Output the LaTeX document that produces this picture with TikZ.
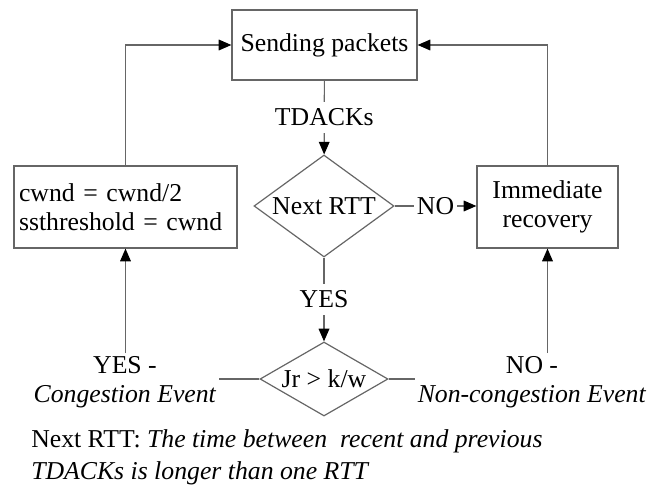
\documentclass[tikz,border=0pt]{standalone}
\usepackage{fontspec}
\setmainfont{Liberation Serif}
\usetikzlibrary{shapes.geometric,arrows.meta}
\tikzset{
  box/.style={draw=black!60, line width=0.9pt, rectangle, inner sep=0pt, align=center},
  dia/.style={draw=black!60, line width=0.9pt, diamond, inner sep=0pt},
  link/.style={draw=black!60, line width=0.9pt},
  arr/.style={link, -{Triangle[length=9.5pt,width=8pt,color=black]}},
  lbl/.style={fill=white, inner xsep=3pt, inner ysep=5pt},
}
\begin{document}
\begin{tikzpicture}[x=0.75pt,y=-0.75pt, font=\fontsize{19.3}{22}\selectfont]
\useasboundingbox (0,0) rectangle (649,488);

% process boxes
\node[box, minimum width=138.75pt, minimum height=52.5pt] (send) at (324.5,45) {Sending packets};
\node[box, minimum width=105.75pt, minimum height=61.5pt] (recov) at (547.5,207) {Immediate\\recovery};
\node[box, minimum width=167.25pt, minimum height=61.5pt, text width=159.75pt,
      inner xsep=3.75pt, align=left] (cwnd) at (125.5,207) {cwnd = cwnd/2\\ssthreshold = cwnd};

% decisions
\node[dia, minimum width=105pt, minimum height=76.5pt, label=center:{Next RTT}] (rtt) at (324,206) {};
\node[dia, minimum width=96pt, minimum height=55.5pt, label=center:{Jr > k/w}] (jr) at (324,379) {};

% outcomes of the second test
\node[align=center, inner sep=2pt] (yes) at (125,382) {YES -\\\textit{Congestion Event}};
\node[align=center, inner sep=2pt] (no) at (532,382) {NO -\\\textit{Non-congestion Event}};

% footnote
\node[anchor=base west, inner sep=0pt] (foot1) at (31,447) {Next RTT: \textit{The time between\ \ recent and previous}};
\node[anchor=base west, inner sep=0pt] (foot2) at (31,479) {\textit{TDACKs is longer than one RTT}};

% connectors
\draw[arr] (send) -- node[lbl]{TDACKs} (rtt);
\draw[arr] (rtt) -- node[lbl]{YES} (jr);
\draw[arr] (rtt.east) -- node[lbl, inner xsep=2pt]{NO} (rtt.east -| recov.west);
\draw[link] (jr.west) -- (jr.west -| yes.east);
\draw[link] (jr.east) -- (jr.east -| no.west);
\draw[arr] (yes.north -| cwnd.south) -- (cwnd.south);
\draw[arr] (no.north -| recov.south) -- (recov.south);
\draw[arr] (cwnd.north) |- (send.west);
\draw[arr] (recov.north) |- (send.east);
\end{tikzpicture}
\end{document}
